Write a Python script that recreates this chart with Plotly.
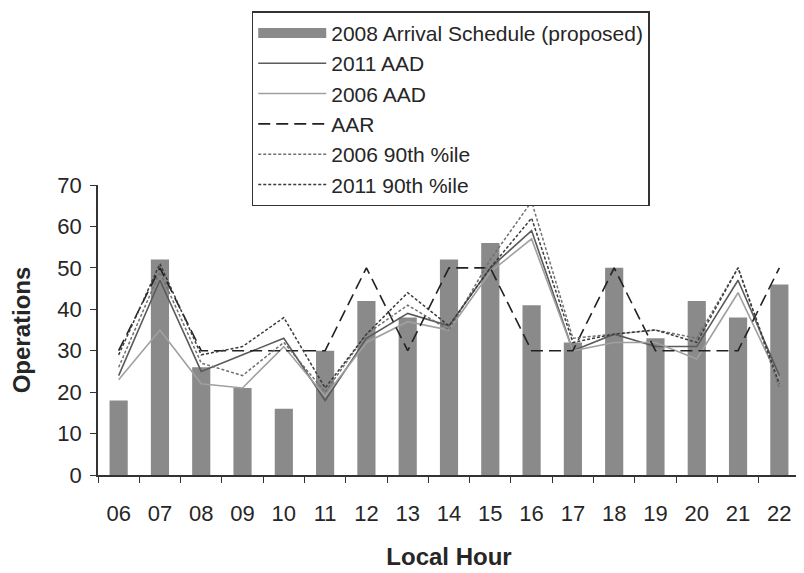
import plotly.graph_objects as go

hours = ["06", "07", "08", "09", "10", "11", "12", "13", "14", "15", "16", "17", "18", "19", "20", "21", "22"]
schedule_2008 = [18, 52, 26, 21, 16, 30, 42, 38, 52, 56, 41, 32, 50, 33, 42, 38, 46]
aad_2011 = [24, 47, 25, 29, 33, 18, 33, 39, 36, 50, 59, 30, 34, 31, 31, 47, 24]
aad_2006 = [23, 35, 22, 21, 31, 19, 32, 37, 35, 49, 57, 30, 32, 32, 28, 44, 23]
aar = [30, 50, 30, 30, 30, 30, 50, 30, 50, 50, 30, 30, 50, 30, 30, 30, 50]
p90_2006 = [26, 49, 27, 24, 32, 20, 34, 41, 35, 52, 66, 33, 34, 35, 33, 50, 21]
p90_2011 = [29, 51, 29, 31, 38, 21, 34, 44, 36, 50, 62, 32, 34, 35, 32, 50, 22]

bar_color = "#8a8a8a"

fig = go.Figure()
fig.add_trace(go.Bar(x=hours, y=schedule_2008, name="2008 Arrival Schedule (proposed)",
                     marker=dict(color=bar_color, line=dict(width=0)),
                     showlegend=False, legendgroup="sched"))
# legend proxy for the bar series (wide rectangle swatch)
fig.add_trace(go.Scatter(x=[None], y=[None], name="2008 Arrival Schedule (proposed)",
                         mode="lines", line=dict(color=bar_color, width=10),
                         legendgroup="sched", hoverinfo="skip"))
fig.add_trace(go.Scatter(x=hours, y=aad_2011, name="2011 AAD", mode="lines",
                         line=dict(color="#5a5a5a", width=1.6)))
fig.add_trace(go.Scatter(x=hours, y=aad_2006, name="2006 AAD", mode="lines",
                         line=dict(color="#a0a0a0", width=1.6)))
fig.add_trace(go.Scatter(x=hours, y=aar, name="AAR", mode="lines",
                         line=dict(color="#222222", width=1.6, dash="12px,6px")))
fig.add_trace(go.Scatter(x=hours, y=p90_2006, name="2006 90th %ile", mode="lines",
                         line=dict(color="#707070", width=1.5, dash="3px,2px")))
fig.add_trace(go.Scatter(x=hours, y=p90_2011, name="2011 90th %ile", mode="lines",
                         line=dict(color="#3a3a3a", width=1.5, dash="3px,2px")))

font_family = "Liberation Sans, Arial, sans-serif"
fig.update_layout(
    width=796, height=565,
    margin=dict(l=90, r=4, t=175, b=98),
    paper_bgcolor="white", plot_bgcolor="white",
    font=dict(family=font_family, size=20, color="#262626"),
    bargap=0.56,
    showlegend=True,
    legend=dict(
        x=0.219, y=1.599, xanchor="left", yanchor="top",
        bordercolor="#333333", borderwidth=1.5, bgcolor="white",
        font=dict(family=font_family, size=21, color="#262626"),
        itemwidth=68, tracegroupgap=0, traceorder="normal",
    ),
    xaxis=dict(
        type="category", showline=True, linecolor="#333333", linewidth=1.5,
        ticks="outside", ticklen=6, tickcolor="#333333", tickson="boundaries",
        showgrid=False, tickfont=dict(size=22), automargin=False,
        ticklabelstandoff=18,
        title=dict(text="<b>Local Hour</b>", font=dict(size=24), standoff=23),
    ),
    yaxis=dict(
        range=[0, 70], dtick=10, showline=True, linecolor="#333333", linewidth=1.5,
        ticks="outside", ticklen=6, tickcolor="#333333", showgrid=False,
        tickfont=dict(size=22), zeroline=False, automargin=False,
        ticklabelstandoff=4,
        title=dict(text="<b>Operations</b>", font=dict(size=24), standoff=20),
    ),
)

fig.write_html("out.html")
